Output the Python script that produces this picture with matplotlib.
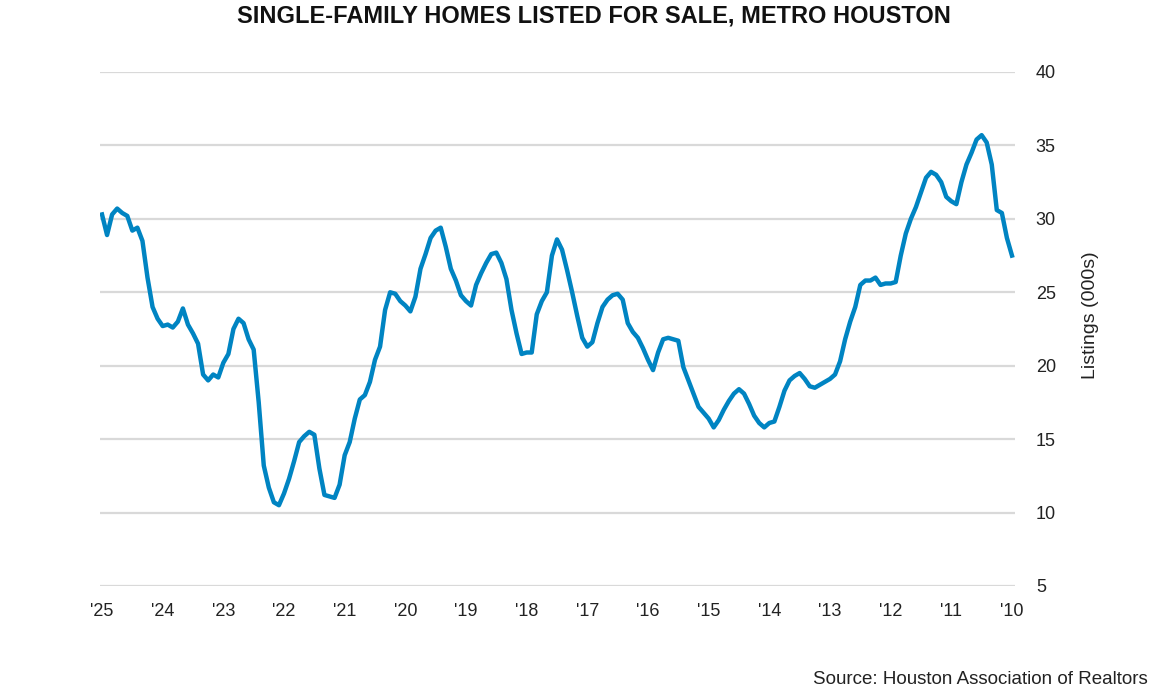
import matplotlib
matplotlib.use("Agg")
import matplotlib.pyplot as plt
from matplotlib import font_manager

# monthly listings (thousands), Jan 2010 -> Jan 2025
listings = [
    # 2010
    27.5, 28.7, 30.4, 30.6, 33.7, 35.2, 35.7, 35.4, 34.5, 33.7, 32.5, 31.0,
    # 2011
    31.2, 31.5, 32.5, 33.0, 33.2, 32.8, 31.8, 30.8, 30.0, 29.0, 27.5, 25.7,
    # 2012
    25.6, 25.6, 25.5, 26.0, 25.8, 25.8, 25.5, 24.0, 23.0, 21.8, 20.3, 19.4,
    # 2013
    19.1, 18.9, 18.7, 18.5, 18.6, 19.1, 19.5, 19.3, 19.0, 18.3, 17.2, 16.2,
    # 2014
    16.1, 15.8, 16.1, 16.6, 17.4, 18.1, 18.4, 18.1, 17.6, 17.0, 16.3, 15.8,
    # 2015
    16.4, 16.8, 17.2, 18.1, 19.0, 19.9, 21.7, 21.8, 21.9, 21.8, 20.9, 19.7,
    # 2016
    20.4, 21.2, 21.9, 22.3, 22.9, 24.5, 24.9, 24.8, 24.5, 24.0, 22.9, 21.6,
    # 2017
    21.3, 21.9, 23.4, 25.0, 26.5, 27.9, 28.6, 27.5, 25.0, 24.4, 23.5, 20.9,
    # 2018
    20.9, 20.8, 22.2, 23.8, 25.9, 27.0, 27.7, 27.6, 27.0, 26.3, 25.5, 24.1,
    # 2019
    24.4, 24.8, 25.8, 26.6, 28.1, 29.4, 29.2, 28.7, 27.6, 26.6, 24.7, 23.7,
    # 2020
    24.1, 24.4, 24.9, 25.0, 23.8, 21.3, 20.4, 18.9, 18.0, 17.7, 16.4, 14.8,
    # 2021
    13.9, 11.9, 11.0, 11.1, 11.2, 13.0, 15.3, 15.5, 15.2, 14.8, 13.5, 12.3,
    # 2022
    11.3, 10.5, 10.7, 11.7, 13.2, 17.5, 21.1, 21.8, 22.9, 23.2, 22.5, 20.8,
    # 2023
    20.2, 19.2, 19.4, 19.0, 19.4, 21.5, 22.2, 22.8, 23.9, 23.0, 22.6, 22.8,
    # 2024
    22.7, 23.2, 24.0, 26.0, 28.5, 29.4, 29.2, 30.2, 30.4, 30.7, 30.3, 28.9,
    # 2025
    30.3,
]
dates = [2010 + i / 12 for i in range(len(listings))]

years = list(range(2010, 2026))
year_labels = ["'%02d" % (y % 100) for y in years]
y_ticks = [5, 10, 15, 20, 25, 30, 35, 40]

names = {f.name for f in font_manager.fontManager.ttflist}
if "Liberation Sans Narrow" in names:
    title_font, title_size = "Liberation Sans Narrow", 19
else:
    title_font, title_size = "Liberation Sans", 17

plt.rcParams["font.family"] = ["Liberation Sans", "DejaVu Sans"]

fig = plt.figure(figsize=(11.58, 6.95), dpi=100)
ax = fig.add_axes([100 / 1158, 109 / 695, 915 / 1158, 514 / 695])

ax.plot(dates, listings, color="#0084c2", linewidth=3.2, solid_joinstyle="round")

# chart runs right-to-left, axis on the right
ax.set_xlim(2025.033, 2009.95)
ax.set_ylim(5, 40)
ax.set_xticks(years)
ax.set_xticklabels(year_labels)
ax.set_yticks(y_ticks)
ax.yaxis.tick_right()
ax.yaxis.set_label_position("right")
ax.tick_params(axis="both", length=0, labelsize=13, colors="#222222")
ax.tick_params(axis="y", pad=15)
ax.tick_params(axis="x", pad=12)
ax.set_ylabel("Listings (000s)", fontsize=14, color="#222222", rotation=90)
ax.yaxis.set_label_coords(1.073, 0.527)

ax.grid(axis="y", color="#d9d9d9", linewidth=1.6)
ax.set_axisbelow(True)
for s in ax.spines.values():
    s.set_visible(False)

fig.text(0.513, 1 - 16 / 695, "SINGLE-FAMILY HOMES LISTED FOR SALE, METRO HOUSTON",
         ha="center", va="center", fontsize=title_size, fontweight="bold",
         family=[title_font, "DejaVu Sans"], color="#111111")
fig.text(1148 / 1158, 1 - 680 / 695, "Source: Houston Association of Realtors",
         ha="right", va="center", fontsize=13.5, color="#222222")

fig.savefig("out.png", dpi=100)
